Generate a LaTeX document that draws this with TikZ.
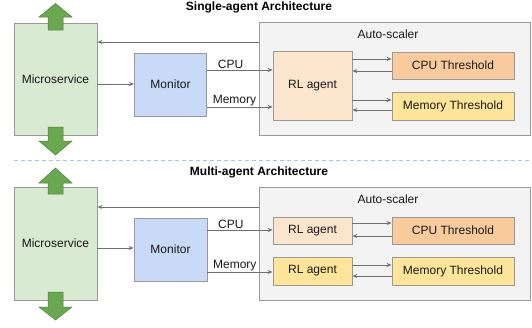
\documentclass[tikz,border=0pt]{standalone}
\usepackage{fontspec}
\setmainfont{Liberation Sans}
\usetikzlibrary{arrows.meta}
\definecolor{msfill}{HTML}{D9EAD3}
\definecolor{monfill}{HTML}{C9DAF8}
\definecolor{asfill}{HTML}{F3F3F3}
\definecolor{rlfill}{HTML}{FCE5CD}
\definecolor{cpufill}{HTML}{F9CB9C}
\definecolor{memfill}{HTML}{FFE599}
\definecolor{boxline}{HTML}{999999}
\definecolor{arrline}{HTML}{707070}
\definecolor{greenarr}{HTML}{6AA84F}
\definecolor{greenline}{HTML}{4F7F3A}
\definecolor{dashblue}{HTML}{A4C2F4}
\tikzset{
  x=1pt, y=-1pt,
  box/.style={draw=boxline, line width=0.8pt, inner sep=0pt, font=\fontsize{12}{14}\selectfont, text=black!90},
  lbl/.style={inner sep=0pt, font=\fontsize{12}{14}\selectfont, text=black!90},
  ttl/.style={inner sep=0pt, font=\fontsize{12}{14}\selectfont\bfseries},
  arr/.style={draw=arrline, line width=0.8pt, -{Stealth[length=5pt,width=4pt]}},
  blk/.style={fill=greenarr, draw=greenline, line width=0.5pt},
}
\begin{document}
\begin{tikzpicture}
\useasboundingbox (0,0) rectangle (532,327);
\fill[white] (0,0) rectangle (532,327);

% ---------- top: single-agent ----------
\node[ttl] (t1) at (259,7) {Single-agent Architecture};
\node[box, fill=msfill, minimum width=83pt, minimum height=112pt] (ms1) at (55.5,79) {Microservice};
\node[box, fill=monfill, minimum width=72pt, minimum height=63pt] (mon1) at (170.5,84.5) {Monitor};
\node[box, fill=asfill, minimum width=271pt, minimum height=113pt] (as1) at (394.5,79) {};
\node[lbl] (asl1) at (388,34) {Auto-scaler};
\node[box, fill=rlfill, minimum width=79pt, minimum height=69pt] (rl1) at (312.5,85.5) {RL agent};
\node[box, fill=cpufill, minimum width=122pt, minimum height=27pt] (cpu1) at (453,65.5) {CPU Threshold};
\node[box, fill=memfill, minimum width=122pt, minimum height=28pt] (mem1) at (453,106) {Memory Threshold};

\draw[arr] (as1.west |- 0,42) -- (ms1.east |- 0,42);
\draw[arr] (ms1.east |- 0,84) -- (mon1.west |- 0,84);
\draw[arr] (mon1.east |- 0,70) -- node[lbl, pos=0.36, above=1pt] (c1) {CPU} (rl1.west |- 0,70);
\draw[arr] (mon1.east |- 0,107) -- node[lbl, pos=0.42, above=1pt] (m1) {Memory} (rl1.west |- 0,107);
\draw[arr] (rl1.east |- 0,59) -- (cpu1.west |- 0,59);
\draw[arr] (cpu1.west |- 0,71) -- (rl1.east |- 0,71);
\draw[arr] (rl1.east |- 0,100) -- (mem1.west |- 0,100);
\draw[arr] (mem1.west |- 0,110) -- (rl1.east |- 0,110);

\draw[blk] (48,30) -- (48,17) -- (39,17) -- (55.5,3.5) -- (72,17) -- (63,17) -- (63,30) -- cycle;
\draw[blk] (48,127) -- (48,141) -- (39,141) -- (55.5,155) -- (72,141) -- (63,141) -- (63,127) -- cycle;

% ---------- separator ----------
\coordinate (d1) at (14,160.5);
\coordinate (d2) at (530,160.5);
\draw[dashblue, line width=0.8pt, dash pattern=on 4pt off 3pt] (d1) -- (d2);

% ---------- bottom: multi-agent ----------
\node[ttl] (t2) at (259,172) {Multi-agent Architecture};
\node[box, fill=msfill, minimum width=83pt, minimum height=113pt] (ms2) at (55.5,243.5) {Microservice};
\node[box, fill=monfill, minimum width=73pt, minimum height=63pt] (mon2) at (170.5,249.5) {Monitor};
\node[box, fill=asfill, minimum width=271pt, minimum height=113pt] (as2) at (394.5,243.5) {};
\node[lbl] (asl2) at (388,199) {Auto-scaler};
\node[box, fill=rlfill, minimum width=79pt, minimum height=27pt] (rl2a) at (312.5,230.5) {RL agent};
\node[box, fill=memfill, minimum width=79pt, minimum height=28pt] (rl2b) at (312.5,271) {RL agent};
\node[box, fill=cpufill, minimum width=122pt, minimum height=27pt] (cpu2) at (453,230.5) {CPU Threshold};
\node[box, fill=memfill, minimum width=122pt, minimum height=28pt] (mem2) at (453,271) {Memory Threshold};

\draw[arr] (as2.west |- 0,207) -- (ms2.east |- 0,207);
\draw[arr] (ms2.east |- 0,248) -- (mon2.west |- 0,248);
\draw[arr] (mon2.east |- 0,230) -- node[lbl, pos=0.36, above=1pt] (c2) {CPU} (rl2a.west |- 0,230);
\draw[arr] (mon2.east |- 0,272) -- node[lbl, pos=0.42, above=1pt] (m2) {Memory} (rl2b.west |- 0,272);
\draw[arr] (rl2a.east |- 0,223) -- (cpu2.west |- 0,223);
\draw[arr] (cpu2.west |- 0,236) -- (rl2a.east |- 0,236);
\draw[arr] (rl2b.east |- 0,265) -- (mem2.west |- 0,265);
\draw[arr] (mem2.west |- 0,276) -- (rl2b.east |- 0,276);

\draw[blk] (48,194) -- (48,183) -- (39,183) -- (55.5,168) -- (72,183) -- (63,183) -- (63,194) -- cycle;
\draw[blk] (48,292) -- (48,307) -- (39,307) -- (55.5,320) -- (72,307) -- (63,307) -- (63,292) -- cycle;
\end{tikzpicture}
\end{document}
